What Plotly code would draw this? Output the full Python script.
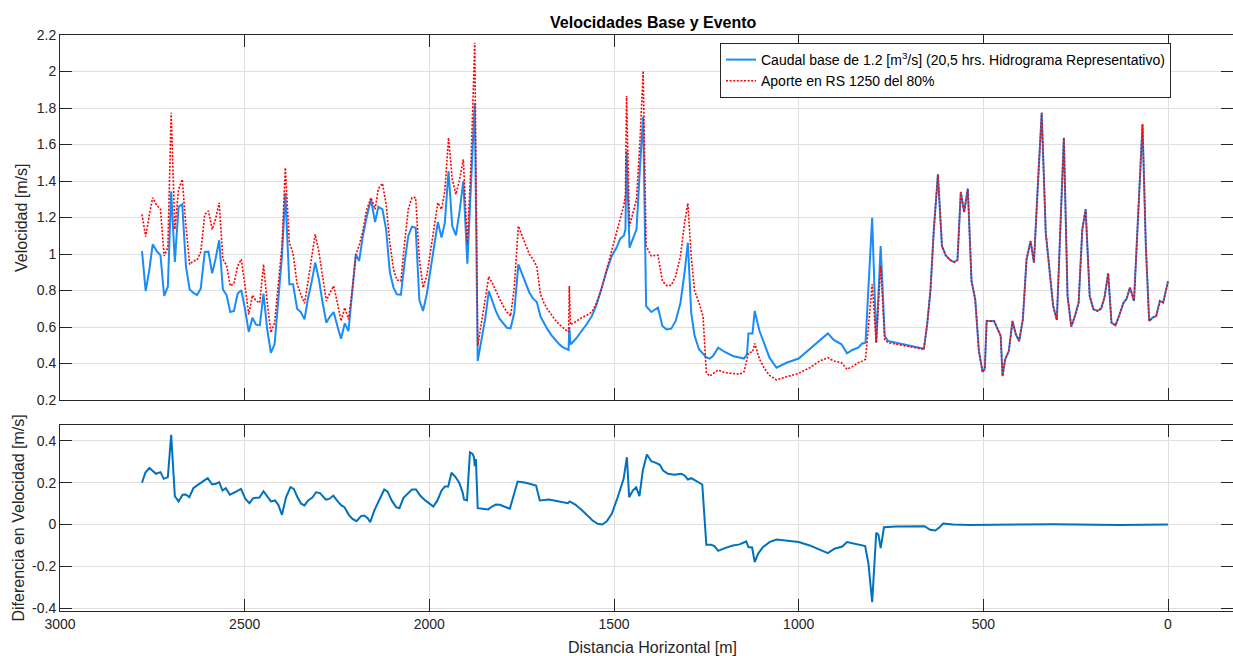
import plotly.graph_objects as go

# ---------------- data ----------------
dist_top = [2778, 2768, 2758, 2749, 2738, 2728, 2718, 2708, 2699, 2689, 2679, 2669, 2659, 2649,
            2639, 2629, 2619, 2608, 2598, 2588, 2579, 2569, 2559, 2549, 2539, 2529, 2519, 2509,
            2499, 2489, 2479, 2469, 2459, 2449, 2439, 2429, 2419, 2409, 2399, 2390, 2379, 2369,
            2358, 2348, 2338, 2329, 2319, 2309, 2299, 2289, 2279, 2269, 2259, 2249, 2239, 2229,
            2219, 2209, 2199, 2190, 2180, 2170, 2158, 2147, 2138, 2127, 2117, 2107, 2097, 2088,
            2077, 2067, 2057, 2047, 2037, 2027, 2017, 2007, 1997, 1987, 1977, 1967, 1958, 1948,
            1938, 1928, 1918, 1908, 1897, 1887, 1877, 1869, 1859, 1849, 1839, 1829, 1820, 1810,
            1800, 1790, 1780, 1770, 1759, 1749, 1739, 1729, 1719, 1709, 1699, 1690, 1680, 1669,
            1659, 1649, 1639, 1629, 1623, 1621, 1618, 1615, 1601, 1588, 1574, 1560, 1547, 1533,
            1520, 1506, 1493, 1483, 1473, 1469, 1466, 1458, 1449, 1439, 1429, 1421, 1413, 1399,
            1381, 1369, 1358, 1345, 1333, 1320, 1309, 1300, 1291, 1282, 1270, 1259, 1250, 1241,
            1232, 1218, 1200, 1178, 1160, 1148, 1140, 1136, 1125, 1119, 1106, 1092, 1079, 1060,
            1033, 1000, 970, 943, 921, 905, 884, 869, 855, 839, 828, 819, 801, 790, 778, 767,
            758, 736, 699, 661, 652, 643, 634, 623, 612, 602, 590, 579, 570, 561, 552, 542, 532,
            522, 512, 502, 496, 491, 471, 462, 453, 448, 441, 431, 421, 412, 403, 393, 383, 372,
            363, 352, 342, 331, 321, 311, 301, 292, 282, 272, 262, 252, 242, 232, 223, 212, 202,
            191, 181, 172, 162, 153, 142, 131, 121, 112, 103, 92, 81, 69, 60, 51, 42, 32, 22, 13, 0]

vel_base = [1.016, 0.797, 0.916, 1.053, 1.016, 0.993, 0.770, 0.821, 1.342, 0.956, 1.259, 1.272,
            0.934, 0.806, 0.788, 0.775, 0.810, 1.011, 1.013, 0.894, 0.971, 1.075, 0.806, 0.775,
            0.682, 0.688, 0.783, 0.801, 0.697, 0.573, 0.651, 0.613, 0.609, 0.783, 0.587, 0.459,
            0.505, 0.770, 0.989, 1.336, 0.834, 0.834, 0.700, 0.682, 0.642, 0.752, 0.843, 0.953,
            0.861, 0.734, 0.624, 0.657, 0.682, 0.606, 0.536, 0.620, 0.578, 0.788, 0.998, 0.962,
            1.099, 1.200, 1.300, 1.175, 1.258, 1.245, 1.135, 0.901, 0.816, 0.779, 0.777, 0.953,
            1.099, 1.150, 1.144, 0.748, 0.688, 0.779, 0.907, 1.035, 1.175, 1.090, 1.172, 1.455,
            1.153, 1.102, 1.236, 1.400, 0.947, 1.391, 1.826, 0.414, 0.523, 0.642, 0.797, 0.742,
            0.688, 0.646, 0.618, 0.596, 0.593, 0.679, 0.943, 0.889, 0.834, 0.788, 0.755, 0.737,
            0.657, 0.620, 0.587, 0.554, 0.529, 0.507, 0.490, 0.478, 0.474, 0.600, 0.505, 0.510,
            0.541, 0.578, 0.615, 0.660, 0.724, 0.816, 0.907, 0.989, 1.035, 1.084, 1.102, 1.135,
            1.564, 1.035, 1.084, 1.135, 1.500, 1.753, 0.715, 0.682, 0.706, 0.606, 0.587, 0.591,
            0.633, 0.733, 0.898, 1.062, 0.679, 0.554, 0.478, 0.450, 0.433, 0.427, 0.441, 0.487,
            0.463, 0.441, 0.432, 0.427, 0.450, 0.565, 0.565, 0.688, 0.578, 0.496, 0.432, 0.377,
            0.404, 0.427, 0.478, 0.523, 0.565, 0.529, 0.505, 0.456, 0.474, 0.487, 0.510, 0.514,
            1.199, 0.514, 1.044, 0.551, 0.523, 0.514, 0.496, 0.481, 0.615, 0.806, 1.135, 1.436,
            1.044, 0.993, 0.967, 0.956, 0.967, 1.340, 1.230, 1.358, 0.852, 0.752, 0.468, 0.353,
            0.372, 0.633, 0.633, 0.596, 0.551, 0.331, 0.423, 0.468, 0.633, 0.560, 0.523, 0.642,
            0.971, 1.071, 0.953, 1.391, 1.774, 1.117, 0.925, 0.715, 0.638, 1.153, 1.637, 0.770,
            0.602, 0.660, 0.733, 1.135, 1.245, 0.770, 0.697, 0.688, 0.701, 0.761, 0.894, 0.624,
            0.609, 0.670, 0.730, 0.755, 0.816, 0.743, 1.227, 1.711, 1.044, 0.633, 0.651, 0.660,
            0.743, 0.734, 0.850]

vel_evento = [1.217, 1.095, 1.217, 1.309, 1.267, 1.245, 0.989, 1.035, 1.774, 1.135, 1.354, 1.409,
              1.153, 0.943, 0.962, 0.967, 1.011, 1.217, 1.236, 1.135, 1.190, 1.281, 0.971, 0.938,
              0.825, 0.839, 0.934, 0.971, 0.825, 0.669, 0.774, 0.743, 0.733, 0.943, 0.733, 0.569,
              0.624, 0.843, 1.044, 1.473, 1.062, 1.004, 0.834, 0.779, 0.730, 0.843, 0.989, 1.108,
              1.011, 0.879, 0.743, 0.788, 0.825, 0.733, 0.633, 0.706, 0.642, 0.797, 0.998, 1.047,
              1.126, 1.240, 1.309, 1.245, 1.358, 1.387, 1.272, 1.062, 0.916, 0.858, 0.852, 1.062,
              1.245, 1.309, 1.309, 0.971, 0.816, 0.879, 1.016, 1.153, 1.281, 1.245, 1.345, 1.637,
              1.409, 1.327, 1.409, 1.519, 1.053, 1.510, 2.158, 0.496, 0.624, 0.752, 0.876, 0.839,
              0.797, 0.755, 0.715, 0.682, 0.660, 0.816, 1.153, 1.099, 1.044, 0.998, 0.971, 0.931,
              0.779, 0.733, 0.697, 0.664, 0.638, 0.615, 0.596, 0.581, 0.572, 0.825, 0.612, 0.615,
              0.633, 0.651, 0.664, 0.682, 0.733, 0.816, 0.912, 1.016, 1.117, 1.190, 1.270, 1.327,
              1.866, 1.153, 1.217, 1.300, 1.647, 2.003, 1.044, 0.989, 0.993, 0.852, 0.828, 0.828,
              0.879, 0.989, 1.172, 1.278, 0.989, 0.800, 0.733, 0.660, 0.350, 0.331, 0.344, 0.364,
              0.350, 0.344, 0.341, 0.355, 0.420, 0.459, 0.463, 0.510, 0.423, 0.370, 0.335, 0.310,
              0.327, 0.346, 0.377, 0.414, 0.432, 0.414, 0.404, 0.368, 0.383, 0.404, 0.413, 0.423,
              0.834, 0.514, 0.934, 0.532, 0.514, 0.505, 0.492, 0.478, 0.615, 0.806, 1.135, 1.436,
              1.044, 0.993, 0.967, 0.956, 0.967, 1.340, 1.230, 1.358, 0.852, 0.752, 0.468, 0.353,
              0.372, 0.633, 0.633, 0.596, 0.551, 0.331, 0.423, 0.468, 0.633, 0.560, 0.523, 0.642,
              0.971, 1.071, 0.953, 1.391, 1.774, 1.117, 0.925, 0.715, 0.638, 1.153, 1.637, 0.770,
              0.602, 0.660, 0.733, 1.135, 1.245, 0.770, 0.697, 0.688, 0.701, 0.761, 0.894, 0.624,
              0.609, 0.670, 0.730, 0.755, 0.816, 0.743, 1.227, 1.711, 1.044, 0.633, 0.651, 0.660,
              0.743, 0.734, 0.850]

dist_diff = [2778, 2769, 2758, 2749, 2740, 2728, 2719, 2708, 2699, 2689, 2679, 2668, 2659, 2650,
             2639, 2627, 2616, 2600, 2588, 2578, 2569, 2560, 2551, 2540, 2523, 2510, 2498, 2487,
             2477, 2460, 2449, 2438, 2429, 2418, 2409, 2399, 2388, 2376, 2367, 2357, 2347, 2338,
             2328, 2316, 2307, 2296, 2280, 2271, 2260, 2248, 2238, 2230, 2218, 2208, 2197, 2185,
             2176, 2167, 2160, 2149, 2136, 2122, 2113, 2102, 2090, 2081, 2070, 2059, 2047, 2036,
             2025, 2011, 2000, 1989, 1978, 1967, 1958, 1949, 1940, 1930, 1919, 1910, 1906, 1898,
             1890, 1883, 1879, 1877, 1874, 1869, 1856, 1841, 1829, 1820, 1809, 1797, 1782, 1761,
             1739, 1711, 1701, 1676, 1649, 1625, 1620, 1604, 1586, 1571, 1558, 1544, 1532, 1520,
             1506, 1490, 1474, 1465, 1459, 1449, 1440, 1431, 1422, 1411, 1399, 1385, 1376, 1367,
             1354, 1336, 1318, 1309, 1300, 1291, 1277, 1261, 1250, 1237, 1228, 1218, 1200, 1178,
             1160, 1142, 1136, 1126, 1119, 1110, 1097, 1079, 1060, 1033, 1000, 970, 943, 921, 903,
             882, 869, 848, 833, 820, 811, 801, 790, 784, 778, 769, 736, 699, 659, 644, 630, 620,
             609, 582, 537, 402, 311, 131, 0]

dif_vel = [0.199, 0.247, 0.270, 0.258, 0.242, 0.250, 0.218, 0.226, 0.428, 0.135, 0.110, 0.142,
           0.143, 0.130, 0.173, 0.189, 0.202, 0.221, 0.191, 0.194, 0.202, 0.162, 0.173, 0.142,
           0.157, 0.170, 0.122, 0.102, 0.126, 0.129, 0.159, 0.134, 0.110, 0.115, 0.094, 0.046,
           0.130, 0.178, 0.170, 0.130, 0.099, 0.091, 0.115, 0.130, 0.154, 0.150, 0.119, 0.122,
           0.138, 0.110, 0.091, 0.083, 0.046, 0.027, 0.016, 0.040, 0.043, 0.030, 0.011, 0.067,
           0.119, 0.167, 0.157, 0.115, 0.083, 0.078, 0.127, 0.146, 0.167, 0.167, 0.138, 0.115,
           0.099, 0.086, 0.115, 0.162, 0.181, 0.181, 0.247, 0.229, 0.199, 0.154, 0.119, 0.115,
           0.345, 0.337, 0.321, 0.278, 0.313, 0.078, 0.075, 0.072, 0.087, 0.095, 0.094, 0.087,
           0.075, 0.205, 0.199, 0.186, 0.115, 0.119, 0.110, 0.102, 0.110, 0.094, 0.067, 0.043,
           0.019, 0.003, 0.000, 0.014, 0.051, 0.130, 0.218, 0.321, 0.130, 0.162, 0.178, 0.135,
           0.258, 0.334, 0.302, 0.293, 0.285, 0.258, 0.242, 0.237, 0.242, 0.234, 0.215, 0.221,
           0.205, 0.191, -0.097, -0.097, -0.103, -0.126, -0.113, -0.100, -0.095, -0.081, -0.108,
           -0.110, -0.180, -0.140, -0.108, -0.084, -0.072, -0.076, -0.084, -0.100, -0.121,
           -0.137, -0.116, -0.105, -0.084, -0.092, -0.097, -0.103, -0.188, -0.371, -0.040,
           -0.049, -0.113, -0.013, -0.010, -0.008, -0.008, -0.025, -0.029, -0.016, 0.005, 0.000,
           -0.002, 0.000, 0.001, -0.002, 0.000]

x_tickvals = [3000, 2500, 2000, 1500, 1000, 500, 0]
x_ticktext = ["3000", "2500", "2000", "1500", "1000", "500", "0"]
y_top_tickvals = [0.2, 0.4, 0.6, 0.8, 1.0, 1.2, 1.4, 1.6, 1.8, 2.0, 2.2]
y_top_ticktext = ["0.2", "0.4", "0.6", "0.8", "1", "1.2", "1.4", "1.6", "1.8", "2", "2.2"]
y_bot_tickvals = [-0.4, -0.2, 0.0, 0.2, 0.4]
y_bot_ticktext = ["-0.4", "-0.2", "0", "0.2", "0.4"]

name_base = "Caudal base de 1.2 [m<sup>3</sup>/s] (20,5 hrs. Hidrograma Representativo)"
name_evento = "Aporte en RS 1250 del 80%"

# ---------------- figure ----------------
W, H = 1233, 656
ML, MR, MT, MB = 60, 0, 35, 45
PW = W - ML - MR
PH = H - MT - MB
FONT = "Liberation Sans, Arial, Helvetica, sans-serif"
AXC = "#262626"
GRID = "#dfdfdf"


def px_x(px):
    return (px - ML) / PW


def px_y(py):
    return (H - MB - py) / PH


fig = go.Figure()
fig.add_trace(go.Scatter(x=dist_top, y=vel_base, mode="lines", name=name_base,
                         line=dict(color="#1a8cf5", width=2), xaxis="x", yaxis="y"))
fig.add_trace(go.Scatter(x=dist_top, y=vel_evento, mode="lines", name=name_evento,
                         line=dict(color="#ff0000", width=1.6, dash="2px,1.6px"),
                         xaxis="x", yaxis="y"))
fig.add_trace(go.Scatter(x=dist_diff, y=dif_vel, mode="lines", showlegend=False,
                         line=dict(color="#0072BD", width=2), xaxis="x2", yaxis="y2"))

xr = [3000, 3000 - PW / (1108.0 / 3000.0)]
common_x = dict(range=xr, tickvals=x_tickvals, ticktext=x_ticktext, showgrid=True,
                gridcolor=GRID, gridwidth=1, showline=True, linecolor=AXC, linewidth=1,
                mirror="ticks", ticks="inside", ticklen=12, tickcolor=AXC, tickwidth=1,
                zeroline=False, tickfont=dict(family=FONT, size=14, color=AXC))
common_y = dict(showgrid=True, gridcolor=GRID, gridwidth=1, showline=True, linecolor=AXC,
                linewidth=1, mirror="ticks", ticks="inside", ticklen=12, tickcolor=AXC,
                tickwidth=1, zeroline=False, tickfont=dict(family=FONT, size=14, color=AXC))

fig.update_layout(
    width=W, height=H,
    margin=dict(l=ML, r=MR, t=MT, b=MB, pad=0),
    paper_bgcolor="white", plot_bgcolor="white",
    font=dict(family=FONT, size=14, color=AXC),
    xaxis=dict(common_x, domain=[0, 1], anchor="y", showticklabels=False),
    yaxis=dict(common_y, domain=[px_y(400), 1], anchor="x", range=[0.2, 2.2],
               tickvals=y_top_tickvals, ticktext=y_top_ticktext),
    xaxis2=dict(common_x, domain=[0, 1], anchor="y2", showticklabels=True),
    yaxis2=dict(common_y, domain=[0, px_y(425)], anchor="x2", range=[-0.413, 0.475],
                tickvals=y_bot_tickvals, ticktext=y_bot_ticktext),
    legend=dict(x=px_x(1171), y=px_y(43), xanchor="right", yanchor="top",
                bgcolor="white", bordercolor=AXC, borderwidth=1,
                font=dict(family=FONT, size=14, color="black"),
                tracegroupgap=0, itemwidth=30),
    showlegend=True,
)

annotations = [
    dict(text="<b>Velocidades Base y Evento</b>", x=px_x(653.5), y=px_y(22.5),
         xref="paper", yref="paper", xanchor="center", yanchor="middle", showarrow=False,
         font=dict(family=FONT, size=16, color="black")),
    dict(text="Distancia Horizontal [m]", x=px_x(652), y=px_y(647),
         xref="paper", yref="paper", xanchor="center", yanchor="middle", showarrow=False,
         font=dict(family=FONT, size=16, color=AXC)),
    dict(text="Velocidad [m/s]", x=px_x(21.5), y=px_y(217.5), textangle=-90,
         xref="paper", yref="paper", xanchor="center", yanchor="middle", showarrow=False,
         font=dict(family=FONT, size=16, color=AXC)),
    dict(text="Diferencia en Velocidad [m/s]", x=px_x(17.5), y=px_y(518), textangle=-90,
         xref="paper", yref="paper", xanchor="center", yanchor="middle", showarrow=False,
         font=dict(family=FONT, size=16, color=AXC)),
]
fig.update_layout(annotations=annotations)

fig.write_html("out.html", config={"displayModeBar": False},
               post_script="document.body.style.margin='0';document.body.style.overflow='hidden';")
